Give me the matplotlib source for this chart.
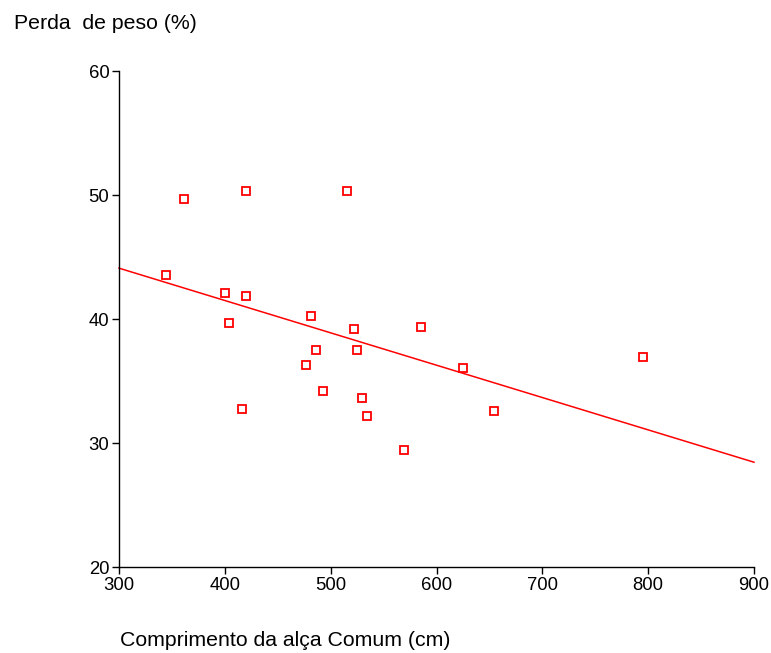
import matplotlib
matplotlib.use("Agg")
import matplotlib.pyplot as plt

plt.rcParams['font.family'] = ['Liberation Sans', 'DejaVu Sans']

comprimento = [344, 361, 420, 515, 400, 420, 404, 481, 522, 585, 486, 525,
               477, 625, 795, 493, 530, 534, 416, 654, 569]
perda = [43.55, 49.7, 50.3, 50.3, 42.1, 41.85, 39.7, 40.25, 39.2, 39.35, 37.5, 37.5,
         36.3, 36.05, 36.95, 34.2, 33.65, 32.2, 32.75, 32.6, 29.45]
fit_x = [300, 900]
fit_y = [44.1, 28.45]
x_ticks = [300, 400, 500, 600, 700, 800, 900]
y_ticks = [20, 30, 40, 50, 60]

fig = plt.figure(figsize=(7.71, 6.53), dpi=100)
ax = fig.add_axes([119/771, 1-567/653, (754-119)/771, (567-71)/653])
ax.plot(fit_x, fit_y, color='#ff0000', lw=1.1, clip_on=False)
ax.plot(comprimento, perda, ls='none', marker='s', ms=6.2, mfc='white',
        mec='#ff0000', mew=1.3, clip_on=False)
ax.set_xlim(300, 900)
ax.set_ylim(20, 60)
ax.set_xticks(x_ticks)
ax.set_yticks(y_ticks)
ax.tick_params(direction='out', length=5, width=1, labelsize=13.3, pad=2)
for s in ['top', 'right']:
    ax.spines[s].set_visible(False)
for s in ['left', 'bottom']:
    ax.spines[s].set_linewidth(1)
fig.text(14/771, 1-29/653, 'Perda  de peso (%)', fontsize=15.3, ha='left', va='baseline')
fig.text(120/771, 1-646/653, 'Comprimento da alça Comum (cm)', fontsize=15.3, ha='left', va='baseline')
fig.savefig('out.png', dpi=100)
